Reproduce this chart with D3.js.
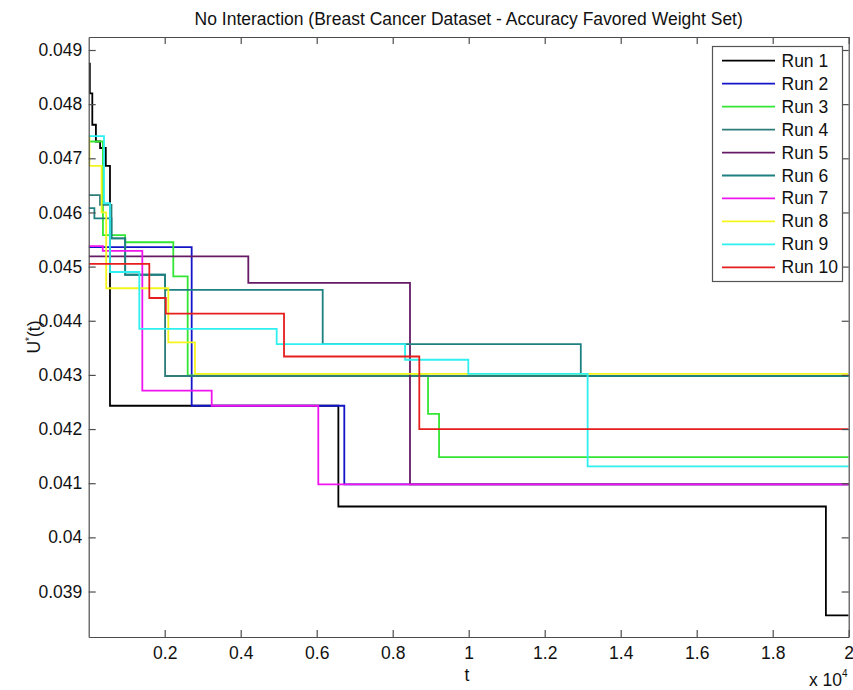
<!DOCTYPE html>
<html>
<head>
<meta charset="utf-8">
<script src="https://cdn.jsdelivr.net/npm/d3@7"></script>
<style>
  html, body { margin: 0; padding: 0; background: #fff; }
  svg { display: block; font-family: "Liberation Sans", Arial, sans-serif; }
</style>
</head>
<body>
<svg id="chart" width="853" height="690"></svg>
<script>
// ---- data (t in iterations, U*(t) values) ----
const run1T  = [0, 30, 95, 190, 300, 450, 560, 6570, 19400];
const run1U  = [0.04875, 0.04820, 0.04762, 0.04731, 0.04719, 0.04686, 0.04243, 0.04057, 0.03856];
const run2T  = [0, 2710, 6726];
const run2U  = [0.04536, 0.04243, 0.04098];
const run3T  = [0, 375, 960, 2226, 2605, 8930, 9220];
const run3U  = [0.04731, 0.04558, 0.04545, 0.04482, 0.04299, 0.04228, 0.04148];
const run4T  = [0, 297, 600, 960, 2010];
const run4U  = [0.04632, 0.04614, 0.04552, 0.04485, 0.04298];
const run5T  = [0, 4200, 8455];
const run5U  = [0.04519, 0.04470, 0.04098];
const run6T  = [0, 150, 600, 960, 2010, 6158, 12950];
const run6U  = [0.04608, 0.04589, 0.04552, 0.04485, 0.04457, 0.04357, 0.04298];
const run7T  = [0, 370, 1411, 3237, 6042];
const run7U  = [0.04538, 0.04529, 0.04271, 0.04243, 0.04098];
const run8T  = [0, 20, 340, 460, 2095, 2797];
const run8U  = [0.04741, 0.04686, 0.04600, 0.04460, 0.04360, 0.04302];
const run9T  = [0, 403, 560, 1332, 4947, 8325, 9990, 13130];
const run9U  = [0.04741, 0.04617, 0.04490, 0.04385, 0.04357, 0.04328, 0.04302, 0.04131];
const run10T = [0, 1595, 2030, 5140, 8700];
const run10U = [0.04505, 0.04442, 0.04413, 0.04334, 0.04200];

const runNames  = ["Run 1","Run 2","Run 3","Run 4","Run 5","Run 6","Run 7","Run 8","Run 9","Run 10"];
const runColors = ["#000000","#1414c8","#33e633","#2e7d7a","#661a66","#1e8080","#f014f0","#f5f51e","#2ef0f0","#e61e1e"];
const runTimes  = [run1T, run2T, run3T, run4T, run5T, run6T, run7T, run8T, run9T, run10T];
const runValues = [run1U, run2U, run3U, run4U, run5U, run6U, run7U, run8U, run9U, run10U];

const xTicks = [2000, 4000, 6000, 8000, 10000, 12000, 14000, 16000, 18000, 20000];
const xTickLabels = ["0.2","0.4","0.6","0.8","1","1.2","1.4","1.6","1.8","2"];
const yTicks = [0.039, 0.040, 0.041, 0.042, 0.043, 0.044, 0.045, 0.046, 0.047, 0.048, 0.049];
const yTickLabels = ["0.039","0.04","0.041","0.042","0.043","0.044","0.045","0.046","0.047","0.048","0.049"];
const tMax = 20000;

// ---- layout ----
const L = 88.7, R = 848.7, T = 37, B = 637;
const svg = d3.select("#chart");
const x = d3.scaleLinear().domain([0, tMax]).range([L, R]);
const y = d3.scaleLinear().domain([0.03816, 0.04924]).range([B, T]);

const axisColor = "#4d4d4d";
const fontSize = 17.5;

// clip
svg.append("defs").append("clipPath").attr("id", "clip")
  .append("rect").attr("x", L).attr("y", T).attr("width", R - L).attr("height", B - T);

// lines
const line = d3.line().x(d => x(d[0])).y(d => y(d[1])).curve(d3.curveStepAfter);
const gLines = svg.append("g").attr("clip-path", "url(#clip)");
runTimes.forEach((ts, i) => {
  const pts = ts.map((t, j) => [t, runValues[i][j]]);
  pts.push([tMax, runValues[i][runValues[i].length - 1]]);
  gLines.append("path")
    .attr("d", line(pts))
    .attr("fill", "none")
    .attr("stroke", runColors[i])
    .attr("stroke-width", 1.8);
});

// axes (MATLAB box style, inward ticks)
const tickLen = 7;
const xAxisB = d3.axisBottom(x).tickValues(xTicks).tickSizeInner(-tickLen).tickSizeOuter(0)
  .tickPadding(10).tickFormat((d, i) => xTickLabels[i]);
const xAxisT = d3.axisTop(x).tickValues(xTicks).tickSizeInner(-tickLen).tickSizeOuter(0).tickFormat("");
const yAxisL = d3.axisLeft(y).tickValues(yTicks).tickSizeInner(-tickLen).tickSizeOuter(0)
  .tickPadding(6.5).tickFormat((d, i) => yTickLabels[i]);
const yAxisR = d3.axisRight(y).tickValues(yTicks).tickSizeInner(-tickLen).tickSizeOuter(0).tickFormat("");

function styleAxis(g) {
  g.selectAll("path.domain").attr("stroke", axisColor).attr("stroke-width", 1.2);
  g.selectAll(".tick line").attr("stroke", axisColor).attr("stroke-width", 1.2);
  g.selectAll(".tick text").attr("fill", "#111").style("font-size", fontSize + "px")
    .style("font-family", '"Liberation Sans", Arial, sans-serif');
}
svg.append("g").attr("transform", `translate(0,${B})`).call(xAxisB).call(styleAxis);
svg.append("g").attr("transform", `translate(0,${T})`).call(xAxisT).call(styleAxis);
svg.append("g").attr("transform", `translate(${L},0)`).call(yAxisL).call(styleAxis);
svg.append("g").attr("transform", `translate(${R},0)`).call(yAxisR).call(styleAxis);

// title
svg.append("text").attr("x", (L + R) / 2).attr("y", 25).attr("text-anchor", "middle")
  .style("font-size", fontSize + "px").attr("fill", "#111")
  .text("No Interaction (Breast Cancer Dataset - Accuracy Favored Weight Set)");

// x label
svg.append("text").attr("x", 467).attr("y", 681).attr("text-anchor", "middle")
  .style("font-size", fontSize + "px").attr("fill", "#111").text("t");

// x multiplier
const mult = svg.append("text").attr("x", 809).attr("y", 686)
  .style("font-size", fontSize + "px").attr("fill", "#111");
mult.append("tspan").text("x 10");
mult.append("tspan").attr("dy", -9).style("font-size", "10px").text("4");

// y label
const yl = svg.append("text").attr("transform", `translate(40,${(T + B) / 2}) rotate(-90)`)
  .attr("text-anchor", "middle").style("font-size", fontSize + "px").attr("fill", "#111");
yl.append("tspan").text("U");
yl.append("tspan").attr("dy", -7).style("font-size", "10px").text("*");
yl.append("tspan").attr("dy", 7).text("(t)");

// legend
const lg = svg.append("g");
lg.append("rect").attr("x", 712.5).attr("y", 46.5).attr("width", 130).attr("height", 235)
  .attr("fill", "#fff").attr("stroke", "#555").attr("stroke-width", 1.2);
runNames.forEach((n, i) => {
  const yy = 60.7 + i * 22.96;
  lg.append("line").attr("x1", 722).attr("x2", 775).attr("y1", yy).attr("y2", yy)
    .attr("stroke", runColors[i]).attr("stroke-width", 1.8);
  lg.append("text").attr("x", 781.5).attr("y", yy + 6)
    .style("font-size", fontSize + "px").attr("fill", "#111").text(n);
});
</script>
</body>
</html>
